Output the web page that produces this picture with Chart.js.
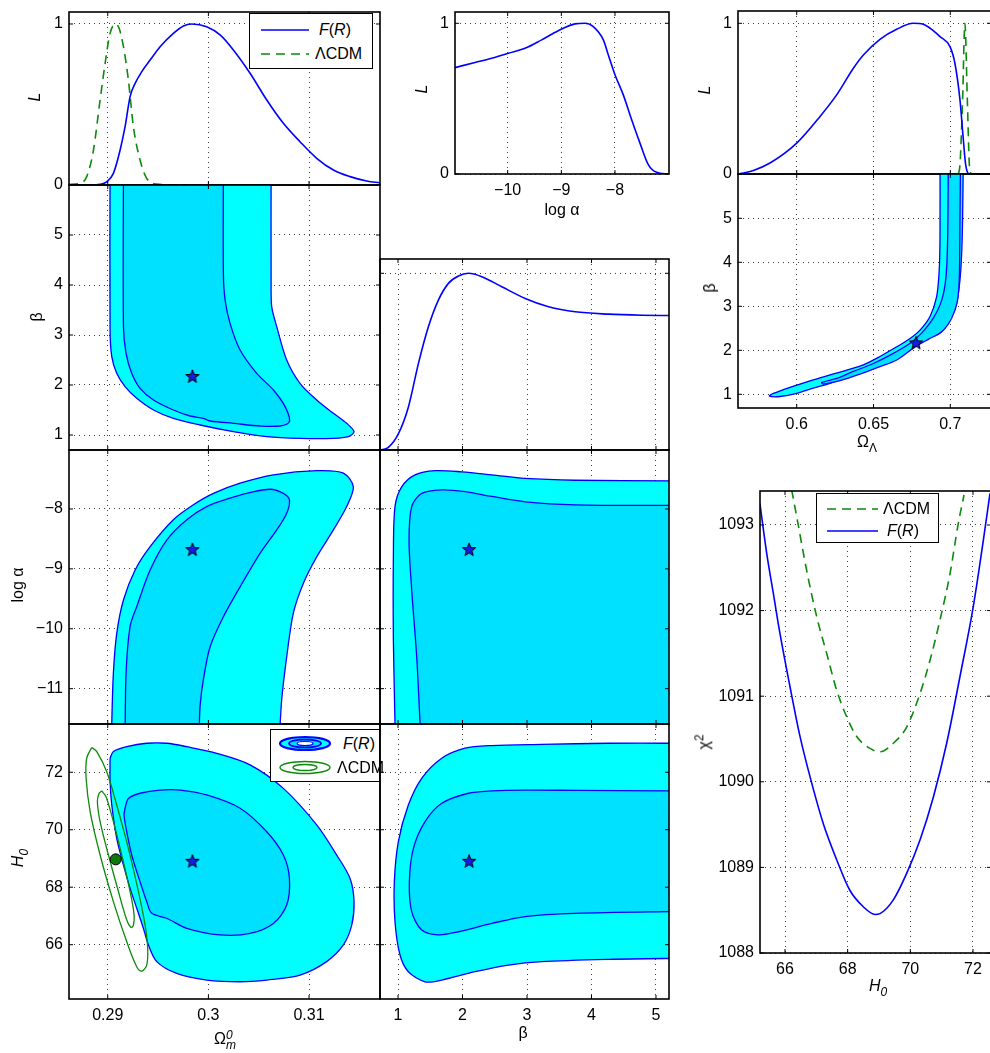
<!DOCTYPE html>
<html>
<head>
<meta charset="utf-8">
<script src="https://cdn.jsdelivr.net/npm/chart.js@4.4.0/dist/chart.umd.min.js"></script>
<style>
  html, body { margin: 0; padding: 0; width: 990px; height: 1053px; overflow: hidden; background: #fff; }
  body { position: relative; font-family: "Liberation Sans", Arial, Helvetica, sans-serif; }
  canvas { position: absolute; }
  .lbl { position: absolute; font-size: 16px; color: #000; white-space: nowrap; transform: translate(-50%, -50%); z-index: 4; }
  .rot { transform: translate(-50%, -50%) rotate(-90deg); }
  .legend { position: absolute; box-sizing: border-box; border: 1.5px solid #000; background: #fff; z-index: 5; font-size: 16px; }
  .legend svg { position: absolute; left: 0; top: 0; }
  .legend span { position: absolute; line-height: 18px; white-space: nowrap; }
  .stack { display: inline-block; vertical-align: middle; line-height: 10px; font-size: 12px; text-align: left; }
</style>
</head>
<body>
<script>
// ---------- data ----------

// marginal likelihood of Omega_m (top left)
const OM_FR_X = [0.28616, 0.28825, 0.28924, 0.2899, 0.29056, 0.29123, 0.29172, 0.29222, 0.29272, 0.29338, 0.29421, 0.2952, 0.29652, 0.29752, 0.29834, 0.29983, 0.30116, 0.30248, 0.30414, 0.3058, 0.30745, 0.3091, 0.31076, 0.31242, 0.31407, 0.31573, 0.31705];
const OM_FR_L = [0, 0, 0.004, 0.02, 0.072, 0.217, 0.362, 0.549, 0.631, 0.704, 0.776, 0.859, 0.942, 0.988, 1.0, 0.983, 0.932, 0.839, 0.694, 0.528, 0.383, 0.269, 0.166, 0.093, 0.052, 0.025, 0.013];
const OM_LCDM_X = [0.28616, 0.28725, 0.28791, 0.28858, 0.28924, 0.28974, 0.29023, 0.29078, 0.29113, 0.29156, 0.29205, 0.29255, 0.29321, 0.29387, 0.29487, 0.29785];
const OM_LCDM_L = [0.004, 0.01, 0.052, 0.217, 0.528, 0.756, 0.942, 1.0, 0.973, 0.859, 0.652, 0.362, 0.155, 0.041, 0.006, 0];

// marginal likelihood of log alpha (top middle)
const LA_X = [-10.981, -10.609, -10.298, -9.988, -9.677, -9.366, -9.056, -8.745, -8.559, -8.404, -8.217, -8.124, -8.0, -7.845, -7.689, -7.534, -7.379, -7.224, -7.006];
const LA_L = [0.706, 0.74, 0.768, 0.801, 0.834, 0.89, 0.951, 0.996, 1.0, 0.978, 0.89, 0.79, 0.658, 0.525, 0.36, 0.205, 0.062, 0.011, 0];

// marginal likelihood of Omega_Lambda (top right)
const OL_FR_X = [0.562, 0.5718, 0.5826, 0.6, 0.6152, 0.626, 0.6369, 0.6434, 0.6542, 0.6651, 0.6759, 0.6824, 0.6933, 0.6998, 0.703, 0.7063, 0.7085, 0.71, 0.7128, 0.7265];
const OL_FR_L = [0, 0.024, 0.073, 0.205, 0.382, 0.525, 0.702, 0.79, 0.894, 0.96, 1.0, 0.993, 0.912, 0.845, 0.735, 0.492, 0.227, 0.062, 0, 0];
const OL_LCDM_X = [0.7052, 0.7063, 0.708, 0.7095, 0.7111, 0.7124, 0.7134];
const OL_LCDM_L = [0, 0.062, 0.49, 1.0, 0.49, 0.062, 0];

// marginal likelihood of beta
const B_X = [0.7206, 0.85, 1.005, 1.16, 1.316, 1.471, 1.626, 1.781, 1.937, 2.092, 2.299, 2.609, 2.972, 3.334, 3.748, 4.265, 4.783, 5.2017];
const B_L = [0, 0.015, 0.091, 0.242, 0.489, 0.697, 0.848, 0.943, 0.985, 1.0, 0.981, 0.924, 0.858, 0.811, 0.782, 0.769, 0.763, 0.761];

// chi^2 against H0 (bottom right)
const CHI_FR_H = [65.2, 65.415, 65.628, 65.84, 66.16, 66.479, 66.798, 67.223, 67.649, 68.074, 68.5, 68.872, 69.032, 69.457, 69.883, 70.309, 70.734, 71.16, 71.585, 72.011, 72.33, 72.543];
const CHI_FR = [1093.25, 1092.67, 1092.2, 1091.73, 1091.11, 1090.53, 1090.06, 1089.51, 1089.09, 1088.73, 1088.54, 1088.45, 1088.46, 1088.62, 1088.93, 1089.32, 1089.82, 1090.45, 1091.23, 1092.05, 1092.82, 1093.37];
const CHI_LCDM_H = [66.213, 66.372, 66.691, 67.011, 67.33, 67.649, 67.968, 68.287, 68.713, 69.032, 69.457, 69.883, 70.309, 70.628, 70.947, 71.266, 71.532, 71.713];
const CHI_LCDM = [1093.41, 1093.1, 1092.47, 1091.93, 1091.5, 1091.07, 1090.76, 1090.53, 1090.39, 1090.35, 1090.45, 1090.64, 1091.03, 1091.42, 1091.89, 1092.43, 1093.02, 1093.35];

// contours: beta vs Omega_m
const OMB_OUT_X = [0.29023, 0.29023, 0.2904, 0.29089, 0.29172, 0.29288, 0.29454, 0.29652, 0.29917, 0.30248, 0.3058, 0.3091, 0.31242, 0.31391, 0.31447, 0.31374, 0.31242, 0.31076, 0.3091, 0.30778, 0.30679, 0.30629, 0.30623, 0.30623];
const OMB_OUT_Y = [6.43, 3.1, 2.567, 2.233, 1.967, 1.733, 1.5, 1.333, 1.2, 1.067, 0.967, 0.933, 0.933, 0.967, 1.067, 1.233, 1.433, 1.7, 2.033, 2.5, 3.167, 3.567, 4.1, 6.43];
const OMB_IN_X = [0.29156, 0.29156, 0.29182, 0.29238, 0.29321, 0.29454, 0.29652, 0.29818, 0.2995, 0.30017, 0.30248, 0.30513, 0.30712, 0.30805, 0.30762, 0.30646, 0.3048, 0.30315, 0.30215, 0.30166, 0.30149, 0.30149];
const OMB_IN_Y = [6.43, 3.167, 2.633, 2.233, 1.933, 1.7, 1.5, 1.38, 1.333, 1.28, 1.233, 1.18, 1.18, 1.267, 1.567, 1.9, 2.233, 2.7, 3.233, 3.7, 4.233, 6.43];

// contours: beta vs Omega_Lambda
const OLB_OUT_X = [0.6933, 0.6933, 0.6928, 0.6911, 0.6868, 0.6803, 0.6738, 0.6651, 0.6542, 0.6434, 0.6325, 0.6217, 0.6108, 0.5957, 0.5848, 0.5822, 0.5892, 0.6, 0.6108, 0.6217, 0.6325, 0.6434, 0.6542, 0.6651, 0.6759, 0.6846, 0.6933, 0.6998, 0.7041, 0.7063, 0.7074, 0.708, 0.7085];
const OLB_OUT_Y = [6.48, 4.58, 3.83, 3.22, 2.77, 2.46, 2.27, 2.08, 1.86, 1.67, 1.55, 1.44, 1.33, 1.16, 1.02, 0.96, 0.95, 1.02, 1.14, 1.25, 1.39, 1.52, 1.67, 1.82, 2.08, 2.27, 2.39, 2.69, 3.07, 3.6, 4.2, 4.96, 6.48];
const OLB_IN_X = [0.6987, 0.6983, 0.6972, 0.6944, 0.6889, 0.6813, 0.6738, 0.6629, 0.6499, 0.6369, 0.626, 0.6163, 0.6173, 0.6282, 0.6412, 0.6542, 0.6651, 0.6759, 0.6857, 0.6944, 0.7009, 0.7046, 0.7059, 0.7063, 0.7067];
const OLB_IN_Y = [6.48, 4.58, 3.67, 3.14, 2.73, 2.39, 2.16, 1.93, 1.7, 1.52, 1.36, 1.27, 1.23, 1.31, 1.46, 1.63, 1.78, 2.05, 2.25, 2.42, 2.73, 3.11, 3.67, 4.96, 6.48];

// contours: log alpha vs Omega_m
const OMA_OUT_X = [0.2904, 0.2904, 0.29056, 0.29089, 0.29156, 0.29272, 0.29421, 0.29652, 0.29851, 0.3005, 0.30315, 0.30646, 0.31076, 0.31341, 0.3144, 0.31374, 0.31242, 0.31076, 0.30944, 0.30844, 0.30778, 0.30728, 0.30705];
const OMA_OUT_Y = [-11.86, -11.58, -10.74, -10.08, -9.52, -9.02, -8.63, -8.18, -7.93, -7.74, -7.57, -7.43, -7.36, -7.4, -7.63, -7.96, -8.35, -8.8, -9.24, -9.74, -10.47, -11.19, -11.86];
const OMA_IN_X = [0.29172, 0.29182, 0.29222, 0.29288, 0.29421, 0.29586, 0.29785, 0.29983, 0.30215, 0.3038, 0.30613, 0.30745, 0.30805, 0.30778, 0.30679, 0.30513, 0.30315, 0.30149, 0.30017, 0.2995, 0.29917, 0.29907];
const OMA_IN_Y = [-11.86, -10.74, -9.96, -9.63, -9.02, -8.52, -8.18, -7.96, -7.82, -7.74, -7.67, -7.74, -7.85, -8.07, -8.35, -8.74, -9.3, -9.8, -10.3, -10.85, -11.3, -11.86];

// contours: log alpha vs beta
const BA_OUT_X = [0.953, 0.953, 0.928, 0.928, 0.953, 1.057, 1.264, 1.574, 1.988, 2.454, 2.972, 3.748, 5.197, 5.56, 5.56];
const BA_OUT_Y = [-11.86, -11.58, -10.19, -8.8, -7.96, -7.63, -7.43, -7.36, -7.38, -7.43, -7.49, -7.52, -7.53, -7.53, -11.86];
const BA_IN_X = [1.357, 1.342, 1.29, 1.212, 1.171, 1.212, 1.367, 1.678, 2.04, 2.454, 2.972, 3.748, 5.197, 5.56, 5.56];
const BA_IN_Y = [-11.86, -11.58, -10.47, -9.35, -8.52, -7.96, -7.74, -7.68, -7.71, -7.79, -7.88, -7.93, -7.94, -7.94, -11.86];

// contours: H0 vs Omega_m, F(R)
const OMH_OUT_X = [0.29023, 0.29056, 0.29189, 0.29387, 0.29586, 0.29785, 0.30083, 0.30414, 0.30745, 0.31076, 0.31275, 0.31407, 0.31447, 0.31424, 0.31341, 0.31175, 0.3091, 0.3058, 0.30315, 0.29983, 0.29685, 0.29487, 0.29404, 0.29354, 0.29288, 0.29222, 0.29156, 0.29089, 0.2904, 0.29023];
const OMH_OUT_Y = [72.49, 72.72, 72.89, 73.01, 73.01, 72.89, 72.66, 72.26, 71.44, 70.17, 69.12, 68.31, 67.5, 66.68, 65.99, 65.41, 64.94, 64.77, 64.71, 64.77, 65.0, 65.41, 65.99, 66.57, 67.27, 67.96, 68.77, 69.7, 70.86, 71.68];
const OMH_IN_X = [0.29172, 0.29205, 0.29321, 0.2952, 0.29719, 0.29983, 0.30315, 0.3058, 0.30745, 0.30805, 0.30778, 0.30646, 0.30414, 0.30116, 0.29785, 0.29586, 0.29437, 0.29387, 0.29321, 0.29238, 0.29182, 0.29162];
const OMH_IN_Y = [70.75, 71.09, 71.27, 71.38, 71.38, 71.21, 70.75, 69.93, 69.12, 68.31, 67.38, 66.74, 66.39, 66.34, 66.57, 66.92, 67.09, 67.5, 68.19, 69.12, 70.05, 70.52];
// H0 vs Omega_m, LCDM (unfilled)
const OMH_LCDM_OUT_X = [0.28841, 0.28891, 0.2899, 0.29089, 0.29205, 0.29305, 0.29371, 0.29397, 0.29387, 0.29338, 0.29288, 0.29189, 0.29056, 0.28924, 0.28825, 0.28785, 0.28791];
const OMH_LCDM_OUT_Y = [72.86, 72.72, 72.02, 70.86, 69.35, 67.85, 66.68, 65.87, 65.29, 65.08, 65.23, 66.1, 67.5, 69.12, 70.63, 71.79, 72.49];
const OMH_LCDM_IN_X = [0.2894, 0.28983, 0.29056, 0.29139, 0.29222, 0.29262, 0.29255, 0.29232, 0.29189, 0.29106, 0.29007, 0.28924, 0.28897, 0.28914];
const OMH_LCDM_IN_Y = [71.35, 71.15, 70.28, 69.12, 67.85, 67.03, 66.68, 66.6, 66.86, 67.85, 69.12, 70.28, 70.98, 71.27];

// contours: H0 vs beta
const BH_OUT_X = [5.56, 5.197, 4.265, 3.23, 2.454, 2.04, 1.678, 1.367, 1.16, 1.005, 0.943, 0.953, 1.031, 1.16, 1.419, 1.678, 2.195, 2.713, 3.23, 4.265, 5.197, 5.56];
const BH_OUT_Y = [73.01, 73.01, 73.01, 72.97, 72.93, 72.84, 72.49, 71.79, 70.86, 69.59, 68.19, 66.8, 65.64, 65.06, 64.71, 64.77, 65.06, 65.29, 65.41, 65.49, 65.52, 65.52];
const BH_IN_X = [5.56, 5.197, 3.748, 2.972, 2.454, 2.092, 1.678, 1.419, 1.238, 1.176, 1.212, 1.367, 1.626, 1.937, 2.454, 2.972, 3.748, 5.197, 5.56];
const BH_IN_Y = [71.35, 71.35, 71.37, 71.38, 71.35, 71.27, 70.92, 70.28, 69.35, 68.19, 67.15, 66.51, 66.34, 66.45, 66.74, 66.98, 67.09, 67.15, 67.15];

// best fit points
const BEST_OM = 0.29841, BEST_BETA = 2.18, BEST_BETA_MID = 2.102, BEST_LA = -8.67, BEST_H0 = 68.92, BEST_OL = 0.6777;
const LCDM_OM = 0.29079, LCDM_H0 = 68.97;

// tick values
const OM_TICKS = [0.29, 0.3, 0.31];
const OL_TICKS = [0.6, 0.65, 0.7];
const LA_TICKS = [-11, -10, -9, -8];
const LA_TOP_TICKS = [-10, -9, -8];
const B_TICKS = [1, 2, 3, 4, 5];
const H0_TICKS = [66, 68, 70, 72];
const L_TICKS = [0, 1];
const CHI_TICKS = [1088, 1089, 1090, 1091, 1092, 1093];
const H0_CHI_TICKS = [66, 68, 70, 72];

// ---------- styling ----------
const FONT = '"Liberation Sans", Arial, Helvetica, sans-serif';
const BLUE = '#0000ff';
const GREEN = '#0b8a0b';
const CYAN_OUT = '#00ffff';
const CYAN_IN = '#00e1ff';
const GRID = 'rgba(0,0,0,0.75)';
const M = 50, YW = 44, XH = 30;

Chart.defaults.font.family = FONT;
Chart.defaults.font.size = 16;
Chart.defaults.color = '#000';

function starImage(size) {
  const c = document.createElement('canvas');
  c.width = c.height = size;
  const g = c.getContext('2d');
  const cx = size / 2, cy = size / 2 + 0.8, R = size / 2 - 1, r = R * 0.42;
  g.beginPath();
  for (let i = 0; i < 10; i++) {
    const a = -Math.PI / 2 + i * Math.PI / 5;
    const rr = i % 2 ? r : R;
    g.lineTo(cx + rr * Math.cos(a), cy + rr * Math.sin(a));
  }
  g.closePath();
  g.fillStyle = '#1a1ae8';
  g.fill();
  g.strokeStyle = '#000';
  g.lineWidth = 1;
  g.stroke();
  return c;
}
const STAR = starImage(16);

const pts = (xs, ys) => xs.map((x, i) => ({ x, y: ys[i] }));
// closed contour lying inside the axes
const loop = (xs, ys) => { const p = pts(xs, ys); p.push({ ...p[0] }); return p; };
// contour cut by the axes: doubled end points keep the off-axis closing edge straight
const cut = (xs, ys) => {
  const p = pts(xs, ys);
  const a = p[0], b = p[p.length - 1];
  return [{ ...a }, ...p, { ...b }, { ...a }, { ...a }];
};

const curve = (xs, ys, color, dashed) => ({
  data: pts(xs, ys), showLine: true, borderColor: color, borderWidth: 1.6,
  borderDash: dashed ? [9, 6] : [], pointRadius: 0, cubicInterpolationMode: 'monotone', fill: false, order: 1
});
const region = (data, fillColor, order) => ({
  data, showLine: true, borderColor: BLUE, borderWidth: 1.3,
  backgroundColor: fillColor, fill: 'shape', pointRadius: 0, tension: 0.3, order
});
const ring = (xs, ys, color) => ({
  data: loop(xs, ys), showLine: true, borderColor: color, borderWidth: 1.3,
  fill: false, pointRadius: 0, tension: 0.35, order: 1
});
const star = (x, y) => ({ data: [{ x, y }], pointStyle: STAR, pointRadius: 8, showLine: false, order: 0 });

// box frame with inward tick marks, as in the original figure
const frame = {
  id: 'frame',
  afterDraw(chart) {
    const { ctx, chartArea: a, scales } = chart;
    ctx.save();
    ctx.strokeStyle = '#000';
    ctx.lineWidth = 1;
    ctx.beginPath();
    scales.x.ticks.forEach(t => {
      const p = scales.x.getPixelForValue(t.value);
      ctx.moveTo(p, a.bottom); ctx.lineTo(p, a.bottom - 4);
      ctx.moveTo(p, a.top); ctx.lineTo(p, a.top + 4);
    });
    scales.y.ticks.forEach(t => {
      const p = scales.y.getPixelForValue(t.value);
      ctx.moveTo(a.left, p); ctx.lineTo(a.left + 4, p);
      ctx.moveTo(a.right, p); ctx.lineTo(a.right - 4, p);
    });
    ctx.stroke();
    ctx.lineWidth = 1.6;
    ctx.strokeRect(a.left, a.top, a.right - a.left, a.bottom - a.top);
    ctx.restore();
  }
};

function axis(min, max, ticks, labels, isX, top) {
  return {
    type: 'linear', min, max, z: top ? 1 : 0,
    afterBuildTicks: s => { s.ticks = ticks.map(v => ({ value: v })); },
    afterFit: s => { if (isX) s.height = XH; else s.width = YW; },
    grid: { color: GRID, lineWidth: 1, drawTicks: false },
    border: { display: false, dash: [1, 4] },
    ticks: {
      display: labels, padding: isX ? 7 : 6, color: '#000', maxRotation: 0,
      font: { family: FONT, size: 16 },
      callback: v => String(v).replace('-', '\u2212')
    }
  };
}

function panel(p) {
  const cv = document.createElement('canvas');
  cv.width = p.box.w + 2 * M;
  cv.height = p.box.h + 2 * M;
  cv.style.left = (p.box.l - M) + 'px';
  cv.style.top = (p.box.t - M) + 'px';
  document.body.appendChild(cv);
  return new Chart(cv, {
    type: 'scatter',
    data: { datasets: p.datasets },
    options: {
      responsive: false, animation: false, events: [],
      layout: { padding: { left: M - YW, right: M, top: M, bottom: M - XH } },
      plugins: { legend: { display: false }, tooltip: { enabled: false } },
      scales: {
        x: axis(p.x[0], p.x[1], p.xt, !!p.xl, true, p.top),
        y: axis(p.y[0], p.y[1], p.yt, !!p.yl, false, p.top)
      }
    },
    plugins: [frame]
  });
}

const OM_RANGE = [0.28615, 0.31705];
const B_RANGE = [0.7206, 5.2017];
const LA_RANGE = [-11.59, -7.015];
const H0_RANGE = [64.11, 73.68];
const OL_RANGE = [0.56178, 0.7265];

// ---------- panels ----------
panel({ box: { l: 69, t: 12, w: 311, h: 173 }, x: OM_RANGE, y: [0, 1.0745], xt: OM_TICKS, yt: L_TICKS, yl: 1,
  datasets: [curve(OM_FR_X, OM_FR_L, BLUE), curve(OM_LCDM_X, OM_LCDM_L, GREEN, true)] });

panel({ box: { l: 455, t: 12, w: 214, h: 162 }, x: [-10.982, -6.993], y: [0, 1.075], xt: LA_TOP_TICKS, yt: L_TICKS, xl: 1, yl: 1,
  datasets: [curve(LA_X, LA_L, BLUE)] });

panel({ box: { l: 738, t: 11, w: 253, h: 163 }, x: OL_RANGE, y: [0, 1.0816], xt: OL_TICKS, yt: L_TICKS, yl: 1,
  datasets: [curve(OL_FR_X, OL_FR_L, BLUE), curve(OL_LCDM_X, OL_LCDM_L, GREEN, true)] });

panel({ box: { l: 69, t: 185, w: 311, h: 265 }, x: OM_RANGE, y: [0.7, 6.0], xt: OM_TICKS, yt: B_TICKS, yl: 1, top: 1,
  datasets: [star(BEST_OM, BEST_BETA), region(cut(OMB_IN_X, OMB_IN_Y), CYAN_IN, 1), region(cut(OMB_OUT_X, OMB_OUT_Y), CYAN_OUT, 2)] });

panel({ box: { l: 380, t: 259, w: 289, h: 191 }, x: B_RANGE, y: [0, 1.081], xt: B_TICKS, yt: L_TICKS,
  datasets: [curve(B_X, B_L, BLUE)] });

panel({ box: { l: 738, t: 174, w: 253, h: 234 }, x: OL_RANGE, y: [0.689, 6.007], xt: OL_TICKS, yt: B_TICKS, xl: 1, yl: 1, top: 1,
  datasets: [star(BEST_OL, BEST_BETA), region(cut(OLB_IN_X, OLB_IN_Y), CYAN_IN, 1), region(cut(OLB_OUT_X, OLB_OUT_Y), CYAN_OUT, 2)] });

panel({ box: { l: 69, t: 450, w: 311, h: 274 }, x: OM_RANGE, y: LA_RANGE, xt: OM_TICKS, yt: LA_TICKS, yl: 1, top: 1,
  datasets: [star(BEST_OM, BEST_LA), region(cut(OMA_IN_X, OMA_IN_Y), CYAN_IN, 1), region(cut(OMA_OUT_X, OMA_OUT_Y), CYAN_OUT, 2)] });

panel({ box: { l: 380, t: 450, w: 289, h: 274 }, x: B_RANGE, y: LA_RANGE, xt: B_TICKS, yt: LA_TICKS, top: 1,
  datasets: [star(BEST_BETA_MID, BEST_LA), region(cut(BA_IN_X, BA_IN_Y), CYAN_IN, 1), region(cut(BA_OUT_X, BA_OUT_Y), CYAN_OUT, 2)] });

panel({ box: { l: 69, t: 724, w: 311, h: 275 }, x: OM_RANGE, y: H0_RANGE, xt: OM_TICKS, yt: H0_TICKS, xl: 1, yl: 1, top: 1,
  datasets: [
    star(BEST_OM, BEST_H0),
    { data: [{ x: LCDM_OM, y: LCDM_H0 }], pointStyle: 'circle', pointRadius: 5.5, backgroundColor: '#0b7a0b', borderColor: '#000', borderWidth: 1, showLine: false, order: 0 },
    ring(OMH_LCDM_OUT_X, OMH_LCDM_OUT_Y, GREEN),
    ring(OMH_LCDM_IN_X, OMH_LCDM_IN_Y, GREEN),
    region(loop(OMH_IN_X, OMH_IN_Y), CYAN_IN, 2),
    region(loop(OMH_OUT_X, OMH_OUT_Y), CYAN_OUT, 3)
  ] });

panel({ box: { l: 380, t: 724, w: 289, h: 275 }, x: B_RANGE, y: H0_RANGE, xt: B_TICKS, yt: H0_TICKS, xl: 1, top: 1,
  datasets: [star(BEST_BETA_MID, BEST_H0), region(cut(BH_IN_X, BH_IN_Y), CYAN_IN, 1), region(cut(BH_OUT_X, BH_OUT_Y), CYAN_OUT, 2)] });

panel({ box: { l: 760, t: 491, w: 231, h: 462 }, x: [65.202, 72.575], y: [1088, 1093.397], xt: H0_CHI_TICKS, yt: CHI_TICKS, xl: 1, yl: 1,
  datasets: [curve(CHI_FR_H, CHI_FR, BLUE), curve(CHI_LCDM_H, CHI_LCDM, GREEN, true)] });

// ---------- axis titles ----------
function label(html, x, y, rot) {
  const d = document.createElement('div');
  d.className = 'lbl' + (rot ? ' rot' : '');
  d.style.left = x + 'px';
  d.style.top = y + 'px';
  d.innerHTML = html;
  document.body.appendChild(d);
}
label('<i>L</i>', 35, 97, true);
label('<i>L</i>', 422, 89, true);
label('<i>L</i>', 705, 90, true);
label('log \u03b1', 562, 210);
label('\u03b2', 37, 317, true);
label('\u03b2', 710, 288, true);
label('\u03a9<sub style="font-size:12px">\u039b</sub>', 867, 444);
label('log \u03b1', 18, 585, true);
label('<i>H</i><sub style="font-size:12px"><i>0</i></sub>', 20, 858, true);
label('\u03a9<span class="stack"><i>0</i><br><i>m</i></span>', 225, 1040);
label('\u03b2', 523, 1033);
label('\u03c7<sup style="font-size:12px">2</sup>', 703, 742, true);
label('<i>H</i><sub style="font-size:12px"><i>0</i></sub>', 878, 988);

// ---------- legends ----------
const FR_TXT = '<i>F</i>(<i>R</i>)';
const LCDM_TXT = '\u039bCDM';
function legend(l, t, w, h, svg, items) {
  const d = document.createElement('div');
  d.className = 'legend';
  d.style.cssText = `left:${l}px;top:${t}px;width:${w}px;height:${h}px`;
  let html = `<svg width="${w}" height="${h}">${svg}</svg>`;
  items.forEach(it => { html += `<span style="left:${it.x}px;top:${it.y - 9}px">${it.txt}</span>`; });
  d.innerHTML = html;
  document.body.appendChild(d);
}
const lineSvg = (x1, x2, y, color, dashed) =>
  `<line x1="${x1}" x2="${x2}" y1="${y}" y2="${y}" stroke="${color}" stroke-width="1.6" ${dashed ? 'stroke-dasharray="9,6"' : ''}/>`;

legend(249, 13, 124, 56,
  lineSvg(11, 59, 16, BLUE) + lineSvg(11, 59, 40, GREEN, true),
  [{ x: 69, y: 16, txt: FR_TXT }, { x: 65, y: 40, txt: LCDM_TXT }]);

legend(816, 493, 123, 50,
  lineSvg(10, 61, 15, GREEN, true) + lineSvg(10, 61, 37, BLUE),
  [{ x: 66, y: 15, txt: LCDM_TXT }, { x: 70, y: 37, txt: FR_TXT }]);

legend(270, 729, 110, 53,
  `<ellipse cx="34" cy="13.5" rx="25" ry="6.5" fill="${CYAN_OUT}" stroke="${BLUE}" stroke-width="2.2"/>` +
  `<ellipse cx="34" cy="13.5" rx="16" ry="4" fill="${CYAN_IN}" stroke="${BLUE}" stroke-width="1.8"/>` +
  `<ellipse cx="34" cy="13.5" rx="8" ry="2" fill="#fff" stroke="${BLUE}" stroke-width="1.2"/>` +
  `<ellipse cx="34" cy="37.5" rx="25" ry="6" fill="none" stroke="${GREEN}" stroke-width="1.4"/>` +
  `<ellipse cx="34" cy="37.5" rx="12" ry="3" fill="none" stroke="${GREEN}" stroke-width="1.4"/>`,
  [{ x: 72, y: 13.5, txt: FR_TXT }, { x: 66, y: 37.5, txt: LCDM_TXT }]);
</script>
</body>
</html>
